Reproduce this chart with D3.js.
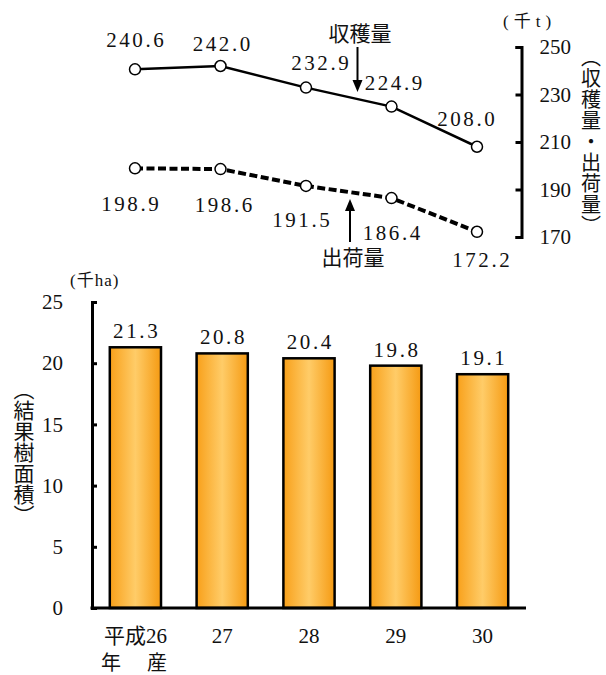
<!DOCTYPE html>
<html><head><meta charset="utf-8">
<script src="https://cdn.jsdelivr.net/npm/d3@7"></script>
<style>
  body { margin: 0; background: #fff; }
  svg { display: block; }
  text { fill: #111; }
</style>
</head><body>
<svg id="chart" width="606" height="675"></svg>
<script>
// Crop years, harvest / shipment volume (千t) and bearing area (千ha)
const years = ["平成26", "27", "28", "29", "30"];
const harvest = [240.6, 242.0, 232.9, 224.9, 208.0];
const shipment = [198.9, 198.6, 191.5, 186.4, 172.2];
const area = [21.3, 20.8, 20.4, 19.8, 19.1];
const volumeTicks = [170, 190, 210, 230, 250];
const areaTicks = [0, 5, 10, 15, 20, 25];

// Small nudges for the value labels around the line points
const harvestLabelShift = [[0, -29], [1, -22], [14, -25], [2, -24], [-11, -28]];
const shipmentLabelShift = [[-5, 36], [3, 36], [-5, 34], [0, 35], [4, 28]];

const SERIF = '"Liberation Serif", "Times New Roman", "DejaVu Serif", serif';
const MIXED = '"Liberation Serif", "Noto Sans CJK JP", serif';
const CJK = '"Noto Sans CJK JP", sans-serif';
const svg = d3.select("#chart");
const fmt = d3.format(".1f");

// ---------- lower panel: bearing area bars ----------
const xBand = d3.scaleBand().domain(years).range([92, 526])
  .paddingInner(0.41).paddingOuter(0.205);
const yArea = d3.scaleLinear().domain([0, 25]).range([608, 302]);

const grad = svg.append("defs").append("linearGradient")
  .attr("id", "barFill").attr("x1", "0%").attr("x2", "100%").attr("y1", "0%").attr("y2", "0%");
grad.append("stop").attr("offset", "0%").attr("stop-color", "#F8A01A");
grad.append("stop").attr("offset", "50%").attr("stop-color", "#FFCC68");
grad.append("stop").attr("offset", "100%").attr("stop-color", "#F59A12");

svg.append("g").selectAll("rect").data(area).join("rect")
  .attr("x", (d, i) => xBand(years[i]))
  .attr("y", d => yArea(d))
  .attr("width", xBand.bandwidth())
  .attr("height", d => yArea(0) - yArea(d))
  .attr("fill", "url(#barFill)")
  .attr("stroke", "#000").attr("stroke-width", 2.5);

svg.append("g").selectAll("text").data(area).join("text")
  .attr("x", (d, i) => xBand(years[i]) + xBand.bandwidth() / 2 + 1.3)
  .attr("y", d => yArea(d) - 16)
  .attr("text-anchor", "middle").attr("dominant-baseline", "central")
  .attr("font-size", 21).attr("letter-spacing", 2.6)
  .style("font-family", SERIF)
  .text(d => fmt(d));

const areaAxis = svg.append("g").attr("transform", "translate(92,0)")
  .call(d3.axisLeft(yArea).tickValues(areaTicks).tickSizeInner(-5).tickSizeOuter(-5).tickPadding(29));
areaAxis.select(".domain").attr("stroke", "#000").attr("stroke-width", 3);
areaAxis.selectAll(".tick line").attr("stroke", "#000").attr("stroke-width", 3);
areaAxis.selectAll(".tick text").attr("font-size", 21).attr("fill", "#111")
  .style("font-family", SERIF);

svg.append("line")
  .attr("x1", 90.5).attr("x2", 526)
  .attr("y1", yArea(0)).attr("y2", yArea(0))
  .attr("stroke", "#000").attr("stroke-width", 3);

// category labels under the bars
svg.append("g").selectAll("text").data(years).join("text")
  .attr("x", d => xBand(d) + xBand.bandwidth() / 2)
  .attr("y", 636)
  .attr("text-anchor", "middle").attr("dominant-baseline", "central")
  .attr("font-size", 21)
  .style("font-family", MIXED)
  .text(d => d);
svg.append("text")
  .attr("x", 101).attr("y", 661)
  .attr("dominant-baseline", "central")
  .attr("font-size", 20).attr("letter-spacing", 3)
  .style("font-family", CJK)
  .text("年　産");

svg.append("text").attr("x", 70).attr("y", 280)
  .attr("dominant-baseline", "central").attr("font-size", 17)
  .style("font-family", MIXED)
  .attr("letter-spacing", 1)
  .text("(千ha)");

svg.append("text")
  .attr("x", 24).attr("y", 452)
  .attr("text-anchor", "middle")
  .style("writing-mode", "vertical-rl")
  .attr("font-size", 21)
  .style("font-family", CJK)
  .text("（結果樹面積）");

// ---------- upper panel: harvest and shipment lines ----------
const xPt = d3.scalePoint().domain(years).range([135, 477]);
const yVol = d3.scaleLinear().domain([170, 250]).range([237, 47]);

const volAxis = svg.append("g").attr("transform", "translate(521.5,0)")
  .call(d3.axisRight(yVol).tickValues(volumeTicks).tickSizeInner(-6).tickSizeOuter(-6).tickPadding(18));
volAxis.select(".domain").attr("stroke", "#000").attr("stroke-width", 3);
volAxis.selectAll(".tick line").attr("stroke", "#000").attr("stroke-width", 3);
volAxis.selectAll(".tick text").attr("font-size", 21).attr("fill", "#111")
  .style("font-family", SERIF);

svg.append("text").attr("x", 503).attr("y", 21)
  .attr("dominant-baseline", "central").attr("font-size", 17)
  .attr("letter-spacing", 5)
  .style("font-family", MIXED)
  .text("(千t)");

svg.append("text")
  .attr("x", 591).attr("y", 142)
  .attr("text-anchor", "middle")
  .style("writing-mode", "vertical-rl")
  .attr("font-size", 20)
  .attr("letter-spacing", 1)
  .style("font-family", CJK)
  .text("（収穫量・出荷量）");

const line = d3.line().x((d, i) => xPt(years[i])).y(d => yVol(d));

svg.append("path").datum(harvest).attr("d", line)
  .attr("fill", "none").attr("stroke", "#000").attr("stroke-width", 2.5);
svg.append("path").datum(shipment).attr("d", line)
  .attr("fill", "none").attr("stroke", "#000").attr("stroke-width", 4)
  .attr("stroke-dasharray", "8,3.5");

[harvest, shipment].forEach(series => {
  svg.append("g").selectAll("circle").data(series).join("circle")
    .attr("cx", (d, i) => xPt(years[i]))
    .attr("cy", d => yVol(d))
    .attr("r", 5.5)
    .attr("fill", "#fff").attr("stroke", "#000").attr("stroke-width", 1.5);
});

function valueLabels(series, shift) {
  svg.append("g").selectAll("text").data(series).join("text")
    .attr("x", (d, i) => xPt(years[i]) + shift[i][0] + 1.3)
    .attr("y", (d, i) => yVol(d) + shift[i][1])
    .attr("text-anchor", "middle").attr("dominant-baseline", "central")
    .attr("font-size", 21).attr("letter-spacing", 2.6)
    .style("font-family", SERIF)
    .text(d => fmt(d));
}
valueLabels(harvest, harvestLabelShift);
valueLabels(shipment, shipmentLabelShift);

// series call-outs with arrows
function arrow(x, yFrom, yTip) {
  const dir = yTip > yFrom ? 1 : -1;
  svg.append("line").attr("x1", x).attr("x2", x)
    .attr("y1", yFrom).attr("y2", yTip - dir * 10)
    .attr("stroke", "#000").attr("stroke-width", 2);
  svg.append("path")
    .attr("d", `M${x - 5},${yTip - dir * 12}L${x + 5},${yTip - dir * 12}L${x},${yTip}Z`)
    .attr("fill", "#000");
}
svg.append("text").attr("x", 360).attr("y", 32)
  .attr("text-anchor", "middle").attr("dominant-baseline", "central")
  .attr("font-size", 21).style("font-family", CJK)
  .text("収穫量");
arrow(357.5, 47, 92);

svg.append("text").attr("x", 353).attr("y", 256)
  .attr("text-anchor", "middle").attr("dominant-baseline", "central")
  .attr("font-size", 21).style("font-family", CJK)
  .text("出荷量");
arrow(350, 242, 199);
</script>
</body></html>
